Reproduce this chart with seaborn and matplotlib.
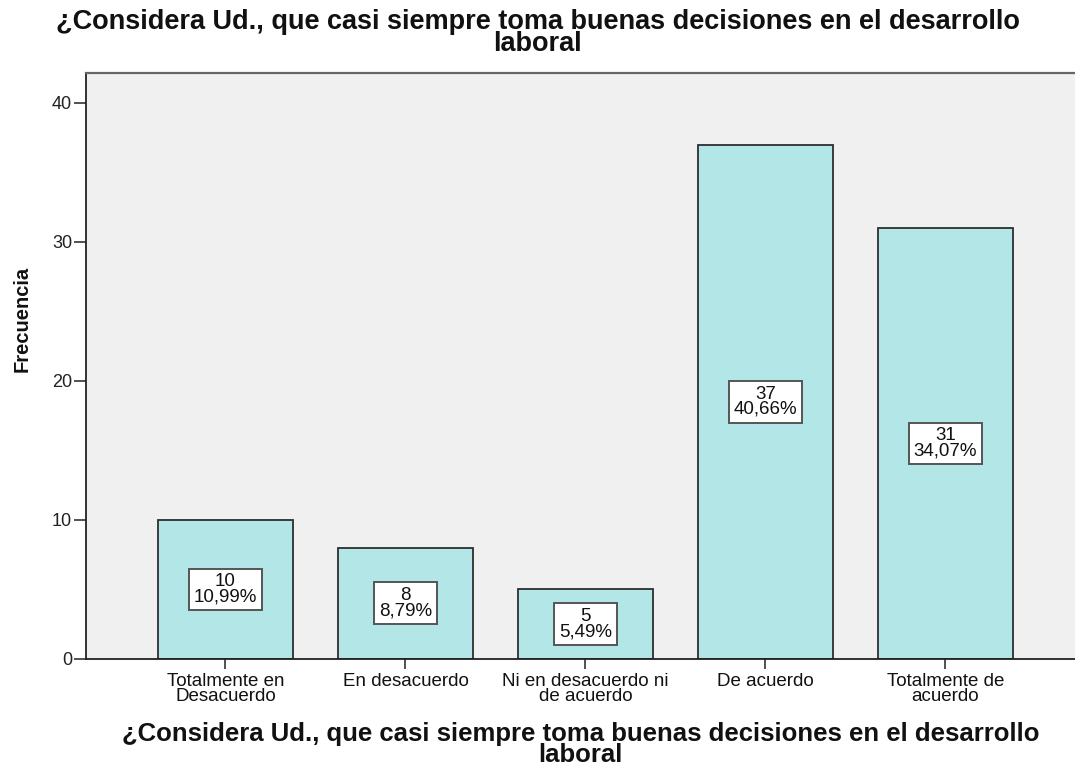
import matplotlib
matplotlib.use("Agg")
import matplotlib.pyplot as plt
import seaborn as sns
import pandas as pd

categorias = ["Totalmente en\nDesacuerdo", "En desacuerdo", "Ni en desacuerdo ni\nde acuerdo",
              "De acuerdo", "Totalmente de\nacuerdo"]
frecuencias = [10, 8, 5, 37, 31]
porcentajes = ["10,99%", "8,79%", "5,49%", "40,66%", "34,07%"]
titulo = "¿Considera Ud., que casi siempre toma buenas decisiones en el desarrollo\nlaboral"

sns.set_style("white")
plt.rcParams["font.family"] = ["Liberation Sans", "DejaVu Sans"]

data = pd.DataFrame({"categoria": categorias, "frecuencia": frecuencias})

fig = plt.figure(figsize=(10.75, 7.68), dpi=100)
ax = fig.add_axes([0.080, 0.142, 0.920, 0.763])
ax.set_facecolor("#F0F0F0")

sns.barplot(data=data, x="categoria", y="frecuencia", color="#B3E6E7",
            saturation=1, width=0.75, edgecolor="#2E2E2E", linewidth=1.3, ax=ax)

# etiquetas de frecuencia y porcentaje en el centro de cada barra
for i, (f, p) in enumerate(zip(frecuencias, porcentajes)):
    ax.text(i, f / 2, f"{f}\n{p}", ha="center", va="center", fontsize=13.5,
            linespacing=0.88, color="#111111",
            bbox=dict(boxstyle="square,pad=0.25", facecolor="white", edgecolor="#555555", linewidth=1.4))

ax.set_xlim(-0.775, 4.72)
ax.set_ylim(0, 42.15)
ax.set_yticks([0, 10, 20, 30, 40])
ax.tick_params(axis="y", direction="out", length=9, width=1.1, color="#222222", labelsize=13, pad=1,
               left=True, labelcolor="#222222")
ax.tick_params(axis="x", direction="out", length=7, width=1.1, color="#222222", labelsize=13.5, pad=3,
               bottom=True, labelcolor="#111111")
for lbl in ax.get_xticklabels():
    lbl.set_linespacing(0.88)

for s in ["left", "bottom"]:
    ax.spines[s].set_color("#222222")
    ax.spines[s].set_linewidth(1.3)
ax.spines["top"].set_color("#666666")
ax.spines["top"].set_linewidth(1.6)
ax.spines["right"].set_visible(False)

ax.set_ylabel("Frecuencia", fontsize=14.5, fontweight="bold", color="#111111", va="center")
ax.yaxis.set_label_coords(-0.065, 0.58)
ax.set_xlabel(titulo, fontsize=18.5, fontweight="bold", linespacing=0.82, color="#111111", va="top")
ax.xaxis.set_label_coords(0.5, -0.108)
fig.text(0.5, 0.988, titulo, ha="center", va="top", fontsize=19.5, fontweight="bold",
         linespacing=0.8, color="#111111")

fig.savefig("out.png", dpi=100)
